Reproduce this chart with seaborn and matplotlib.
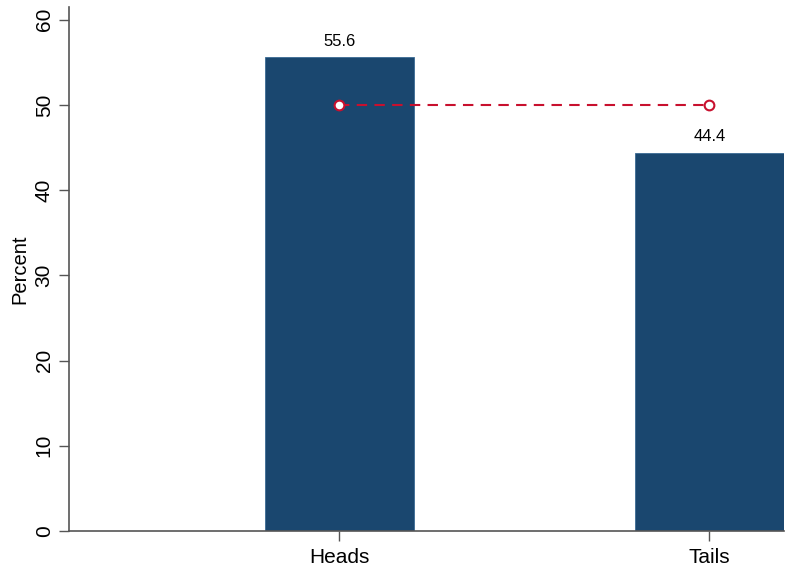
import pandas as pd
import seaborn as sns
import matplotlib.pyplot as plt

# data
outcomes = ["Heads", "Tails"]
percent = [55.6, 44.4]
expected = [50, 50]

BAR_COLOR = "#1a476f"
LINE_COLOR = "#c8102e"

sns.set_style("ticks")
plt.rcParams['font.family'] = ['Liberation Sans', 'DejaVu Sans']
plt.rcParams['text.color'] = 'black'
plt.rcParams['axes.labelcolor'] = 'black'

df = pd.DataFrame({"Outcome": outcomes, "Percent": percent, "Expected": expected})

fig = plt.figure(figsize=(7.87, 5.70), dpi=100)
ax = fig.add_axes([69 / 787, 39 / 570, 715 / 787, 524 / 570])

sns.barplot(data=df, x="Outcome", y="Percent", color=BAR_COLOR, width=0.403,
            saturation=1, edgecolor="#3a6a94", linewidth=0.6, ax=ax)
ax.bar_label(ax.containers[0], fmt="%.1f", padding=6, fontsize=12, color="black")

sns.lineplot(data=df, x="Outcome", y="Expected", color=LINE_COLOR, lw=1.5,
             marker="o", markersize=7, markerfacecolor="white",
             markeredgecolor=LINE_COLOR, markeredgewidth=1.5, ax=ax)
ax.lines[-1].set_dashes((5, 3.5))

ax.set_xlim(-0.731, 1.2015)
ax.set_ylim(0, 61.5)
ax.set_yticks(range(0, 61, 10))
ax.set_xlabel("")
ax.set_ylabel("Percent", fontsize=14.5, labelpad=4)

ax.tick_params(axis="y", labelsize=15, length=7, width=1, color="#555555",
               labelcolor="black", pad=4, labelrotation=90)
for lab in ax.get_yticklabels():
    lab.set_verticalalignment("center")
ax.tick_params(axis="x", labelsize=15, length=7, width=1, color="#555555",
               labelcolor="black", pad=5)

for side in ["top", "right"]:
    ax.spines[side].set_visible(False)
for side in ["left", "bottom"]:
    ax.spines[side].set_color("#555555")
    ax.spines[side].set_linewidth(1.2)

fig.savefig("out.png", dpi=100)
